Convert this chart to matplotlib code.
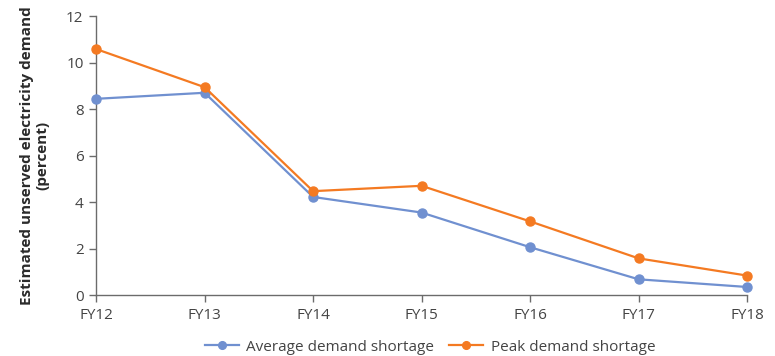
import matplotlib.pyplot as plt

plt.rcParams['font.family'] = ['Open Sans', 'DejaVu Sans']

years = ["FY12", "FY13", "FY14", "FY15", "FY16", "FY17", "FY18"]
average_shortage = [8.44, 8.70, 4.22, 3.55, 2.06, 0.68, 0.35]
peak_shortage = [10.58, 8.94, 4.47, 4.70, 3.17, 1.58, 0.84]

blue = "#7090D0"
orange = "#F47A22"
axis_grey = "#6b6b6b"

fig = plt.figure(figsize=(7.75, 3.56), dpi=100)
ax = fig.add_axes([0.124, 0.171, 0.84, 0.784])

x = range(len(years))
ax.plot(x, average_shortage, color=blue, marker="o", markersize=6.5, linewidth=1.6,
        label="Average demand shortage", clip_on=False, zorder=3)
ax.plot(x, peak_shortage, color=orange, marker="o", markersize=6.5, linewidth=1.6,
        label="Peak demand shortage", clip_on=False, zorder=4)

ax.set_xlim(0, len(years) - 1)
ax.set_ylim(0, 12)
ax.set_yticks(range(0, 13, 2))
ax.set_xticks(list(x))
ax.set_xticklabels(years)

for side in ("top", "right"):
    ax.spines[side].set_visible(False)
for side in ("left", "bottom"):
    ax.spines[side].set_color(axis_grey)
    ax.spines[side].set_linewidth(1.0)

ax.tick_params(axis="both", colors=axis_grey, labelcolor="#444444",
               labelsize=11, length=5, width=1.0, direction="out")
ax.tick_params(axis="y", pad=4)
ax.tick_params(axis="x", pad=4)

ax.set_ylabel("Estimated unserved electricity demand\n(percent)",
              fontsize=11, fontweight="bold", color="#2a2a2a", labelpad=12,
              linespacing=1.1)

fig.legend(loc="lower center", bbox_to_anchor=(0.555, -0.035), ncol=2, frameon=False,
           fontsize=11, handlelength=2.2, columnspacing=1.0, handletextpad=0.5,
           markerscale=0.85, labelcolor="#444444")

fig.savefig("out.png", dpi=100)
